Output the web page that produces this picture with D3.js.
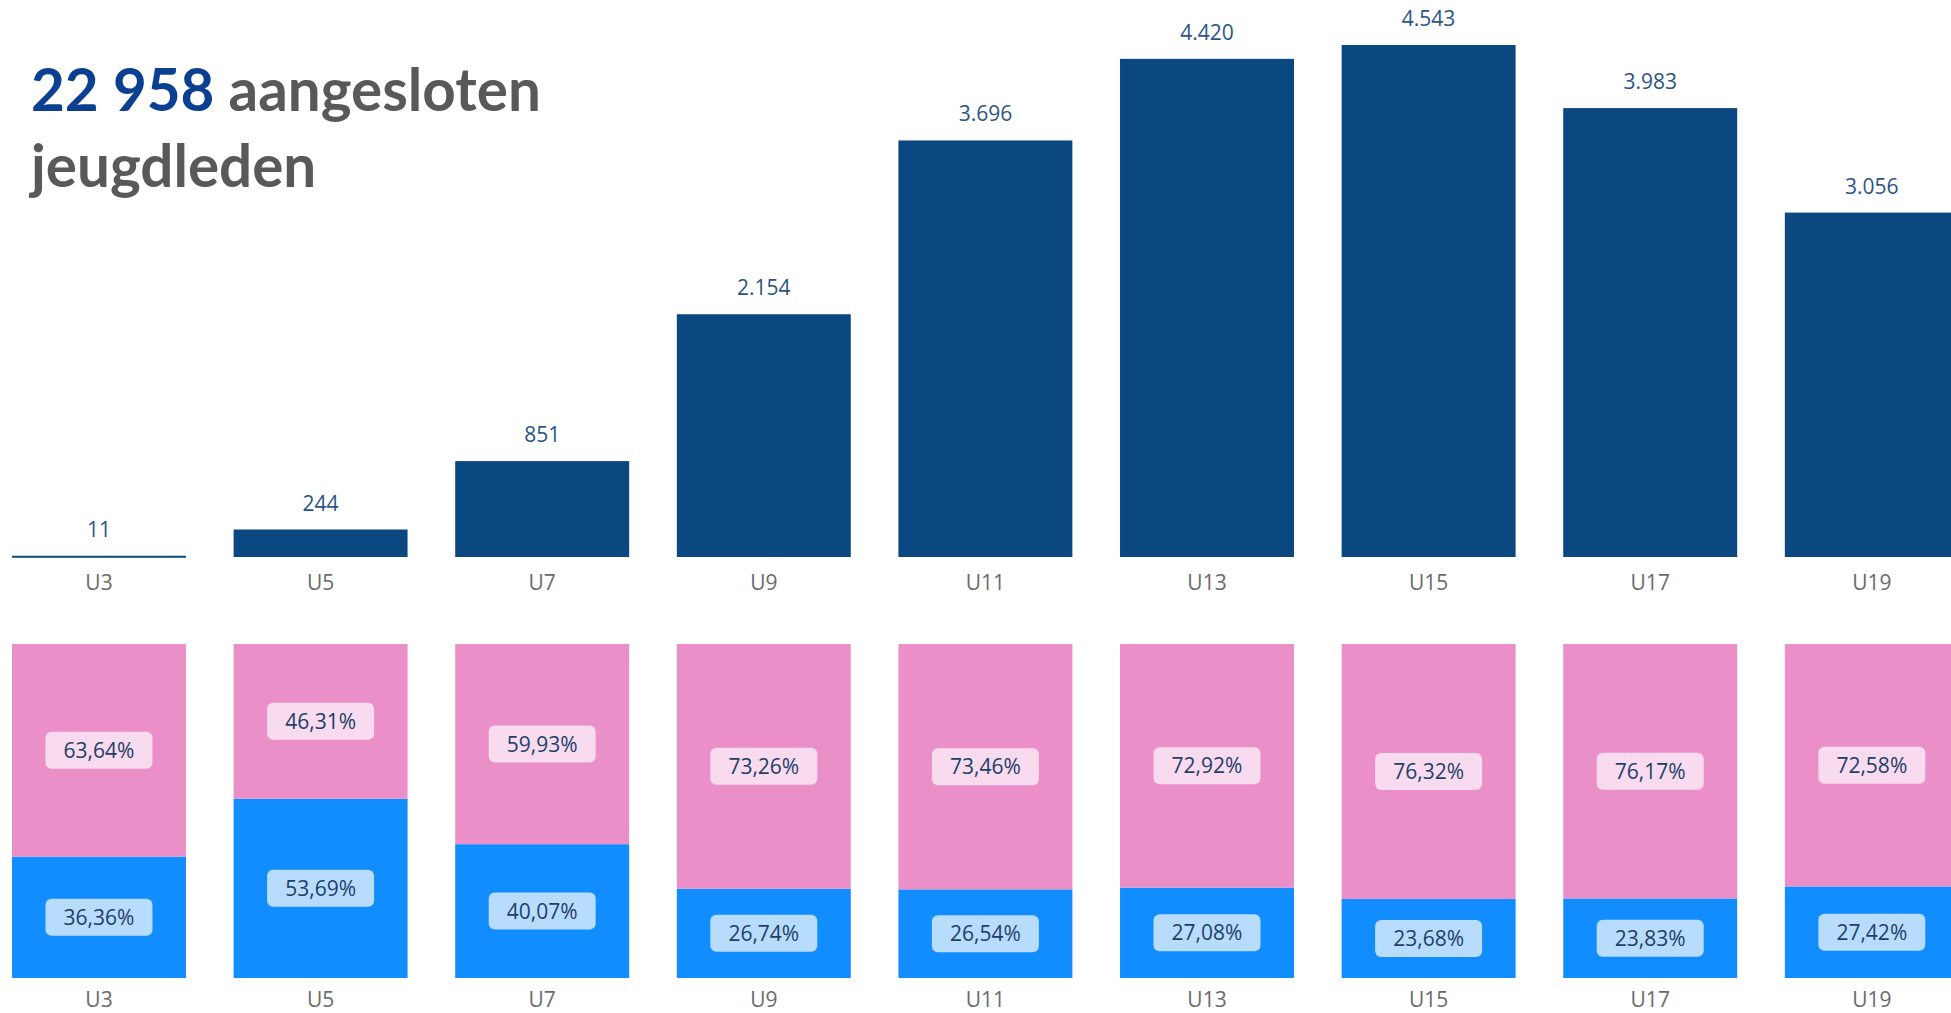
<!DOCTYPE html>
<html>
<head>
<meta charset="utf-8">
<script src="https://cdn.jsdelivr.net/npm/d3@7"></script>
<style>
  html, body { margin: 0; padding: 0; background: #ffffff; overflow: hidden; }
  svg { display: block; }
</style>
</head>
<body>
<svg id="chart" width="1951" height="1013"></svg>
<script>
// ---- data ----
const categories = ["U3", "U5", "U7", "U9", "U11", "U13", "U15", "U17", "U19"];
const totals = [11, 244, 851, 2154, 3696, 4420, 4543, 3983, 3056];
const pinkShare = [63.64, 46.31, 59.93, 73.26, 73.46, 72.92, 76.32, 76.17, 72.58];
const blueShare = [36.36, 53.69, 40.07, 26.74, 26.54, 27.08, 23.68, 23.83, 27.42];
const titleNumber = "22 958";
const titleRest1 = " aangesloten";
const titleLine2 = "jeugdleden";

// ---- styles ----
const FONT = "'Open Sans', 'Noto Sans', sans-serif";
const navy = "#0b4780";
const pink = "#ea8fc8";
const blue = "#118dff";
const labelColor = "#2c5584";
const catColor = "#6b6b6b";

const svg = d3.select("#chart");
const fmtThousands = d3.formatLocale({decimal: ",", thousands: ".", grouping: [3], currency: ["", ""]}).format(",d");
const fmtPct = v => v.toFixed(2).replace(".", ",") + "%";

const x = d3.scaleBand().domain(categories).range([12, 1958.8]).paddingInner(0.215).paddingOuter(0);

// ---- top chart ----
const yTop = d3.scaleLinear().domain([0, 4543]).range([557, 45]);
const gTop = svg.append("g");
gTop.selectAll("rect.total").data(categories).join("rect")
  .attr("class", "total")
  .attr("x", d => x(d))
  .attr("width", x.bandwidth())
  .attr("y", (d, i) => yTop(totals[i]))
  .attr("height", (d, i) => Math.max(2, yTop(0) - yTop(totals[i])))
  .attr("fill", navy);
gTop.selectAll("text.val").data(categories).join("text")
  .attr("class", "val")
  .attr("x", d => x(d) + x.bandwidth() / 2)
  .attr("y", (d, i) => yTop(totals[i]) - 19)
  .attr("text-anchor", "middle")
  .attr("font-family", FONT).attr("font-size", 21).attr("fill", labelColor)
  .text((d, i) => fmtThousands(totals[i]));

const axTop = gTop.append("g").attr("transform", "translate(0,590)")
  .call(d3.axisBottom(x).tickSize(0).tickPadding(0));
axTop.select(".domain").remove();
axTop.selectAll("text").attr("dy", 0).attr("font-family", FONT).attr("font-size", 21).attr("fill", catColor);

// ---- bottom chart ----
const yBot = d3.scaleLinear().domain([0, 100]).range([978, 644]);
const gBot = svg.append("g");
const segs = [];
categories.forEach((c, i) => {
  segs.push({cat: c, y0: 0, y1: blueShare[i], v: blueShare[i], fill: blue, pill: "#b8dcfb"});
  segs.push({cat: c, y0: blueShare[i], y1: 100, v: pinkShare[i], fill: pink, pill: "#f8dbee"});
});
gBot.selectAll("rect.seg").data(segs).join("rect")
  .attr("class", "seg")
  .attr("x", d => x(d.cat))
  .attr("width", x.bandwidth())
  .attr("y", d => yBot(d.y1))
  .attr("height", d => yBot(d.y0) - yBot(d.y1))
  .attr("fill", d => d.fill);
const pills = gBot.selectAll("g.pill").data(segs).join("g")
  .attr("class", "pill")
  .attr("transform", d => `translate(${x(d.cat) + x.bandwidth() / 2},${(yBot(d.y0) + yBot(d.y1)) / 2})`);
pills.append("rect")
  .attr("x", -53.5).attr("y", -18.5).attr("width", 107).attr("height", 37)
  .attr("rx", 6).attr("fill", d => d.pill);
pills.append("text")
  .attr("text-anchor", "middle").attr("dy", "0.36em")
  .attr("font-family", FONT).attr("font-size", 21).attr("fill", "#1f3f6a")
  .text(d => fmtPct(d.v));

const axBot = gBot.append("g").attr("transform", "translate(0,1007)")
  .call(d3.axisBottom(x).tickSize(0).tickPadding(0));
axBot.select(".domain").remove();
axBot.selectAll("text").attr("dy", 0).attr("font-family", FONT).attr("font-size", 21).attr("fill", catColor);

// ---- title ----
const TFONT = "Lato, 'Open Sans', sans-serif";
const title = svg.append("text").attr("x", 31).attr("y", 111)
  .attr("font-family", TFONT).attr("font-weight", 700).attr("font-size", 56);
title.append("tspan").attr("fill", "#0b3f91").text(titleNumber);
title.append("tspan").attr("fill", "#595959").text(titleRest1);
const t2 = svg.append("text").attr("x", 31).attr("y", 187)
  .attr("font-family", TFONT).attr("font-weight", 700).attr("font-size", 56)
  .attr("fill", "#595959").text(titleLine2);
// fit first line width to ~510px (33 -> 541)
const w = title.node().getComputedTextLength();
const fs = 56 * 510 / w;
title.attr("font-size", fs);
t2.attr("font-size", fs);
</script>
</body>
</html>
